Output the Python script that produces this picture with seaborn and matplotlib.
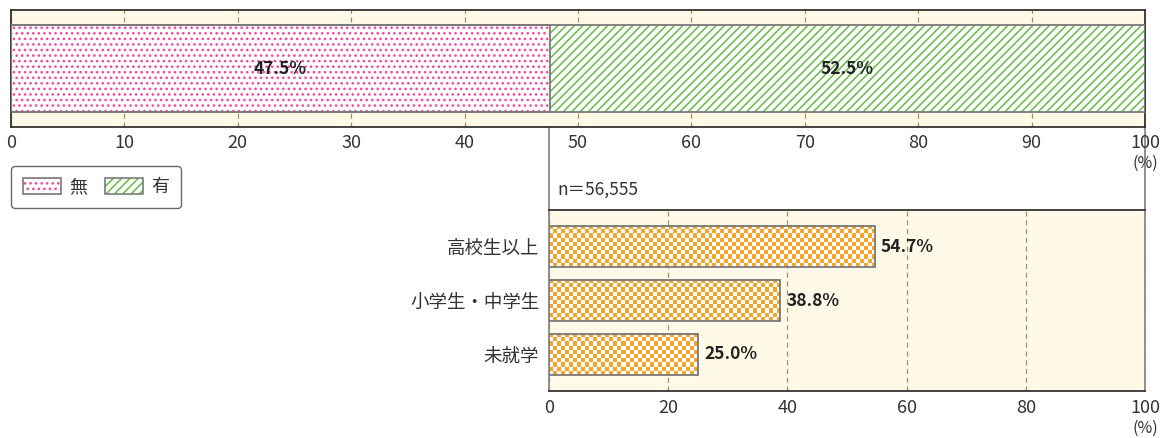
import numpy as np
import pandas as pd
import matplotlib
matplotlib.use("Agg")
import matplotlib.pyplot as plt
import matplotlib.patches as mpatches
from matplotlib.lines import Line2D
from matplotlib.legend_handler import HandlerTuple
import seaborn as sns

# ---------------- data ----------------
top_labels = ["無", "有"]
top_values = [47.5, 52.5]
top_ticks = [0, 10, 20, 30, 40, 50, 60, 70, 80, 90, 100]

categories = ["高校生以上", "小学生・中学生", "未就学"]
cat_values = [54.7, 38.8, 25.0]
bottom_ticks = [0, 20, 40, 60, 80, 100]
n_label = "n＝56,555"

# ---------------- style ----------------
sns.set_theme(style="white")
plt.rcParams["font.family"] = ["Noto Sans CJK JP", "DejaVu Sans"]
plt.rcParams["hatch.linewidth"] = 1.1

CREAM = "#FFFAE8"
PINK = "#EE4D9B"
GREEN = "#66BB44"
ORANGE = "#F6A52C"
EDGE = "#7A7A7A"
SPINE = "#333333"
GRID = "#B48A64"
TXT = "#333333"

W, H = 1164, 438
fig = plt.figure(figsize=(W / 100, H / 100), dpi=100)
fig.patch.set_facecolor("white")

ax1 = fig.add_axes([11 / W, 1 - 127 / H, 1134 / W, 117 / H])
ax2 = fig.add_axes([549 / W, 1 - 391 / H, 596 / W, 181 / H])

# ---------------- top stacked bar ----------------
df_top = pd.DataFrame({"grp": ["all"], "cum_total": [sum(top_values)],
                       "first": [top_values[0]]})
sns.barplot(data=df_top, x="cum_total", y="grp", orient="h", ax=ax1,
            color="white", width=0.744, zorder=2)
sns.barplot(data=df_top, x="first", y="grp", orient="h", ax=ax1,
            color="white", width=0.744, zorder=3)

top_patches = [p for p in ax1.patches]
green_p, pink_p = top_patches[0], top_patches[1]
for p, hc, hatch in [(green_p, GREEN, "////"), (pink_p, PINK, "...")]:
    p.set_facecolor("white")
    p.set_hatch(hatch)
    p.set_edgecolor(hc)
    p.set_linewidth(0)
for p in top_patches:
    r = mpatches.Rectangle((p.get_x(), p.get_y()), p.get_width(), p.get_height(),
                           fill=False, edgecolor=EDGE, linewidth=1.3, zorder=4)
    ax1.add_patch(r)

starts = [0, top_values[0]]
for s, v in zip(starts, top_values):
    ax1.text(s + v / 2, 0, f"{v:.1f}%", ha="center", va="center",
             fontsize=12.5, fontweight="bold", color="#222222", zorder=6)

ax1.set_facecolor(CREAM)
ax1.set_xlim(0, 100)
ax1.set_ylim(0.5, -0.5)
ax1.set_xticks(top_ticks)
ax1.set_xticklabels([str(t) for t in top_ticks])
ax1.set_yticks([])
ax1.set_xlabel("")
ax1.set_ylabel("")
ax1.tick_params(axis="x", length=0, pad=5, labelsize=13, labelcolor=TXT)
ax1.xaxis.grid(True, linestyle=(0, (4, 3)), color=GRID, linewidth=0.9, zorder=1)
ax1.set_axisbelow(True)
for s in ax1.spines.values():
    s.set_visible(True)
    s.set_color(SPINE)
    s.set_linewidth(1.3)
ax1.annotate("(%)", xy=(100, 0), xycoords=("data", "axes fraction"),
             xytext=(0, -20), textcoords="offset points", ha="center", va="top",
             fontsize=11.5, color=TXT)

# ---------------- bottom bar chart ----------------
df_bot = pd.DataFrame({"cat": categories, "val": cat_values})
sns.barplot(data=df_bot, x="val", y="cat", orient="h", ax=ax2,
            color=ORANGE, width=0.76, zorder=2)
ax2.set_xlim(0, 100)
ax2.set_ylim(len(categories) - 1 + 0.676, -0.676)

bars = list(ax2.patches)
ax2.figure.canvas.draw()
orange_rgb = np.array(matplotlib.colors.to_rgb(ORANGE))
for p in bars:
    x0, y0, w, h = p.get_x(), p.get_y(), p.get_width(), p.get_height()
    (px0, py0) = ax2.transData.transform((x0, y0))
    (px1, py1) = ax2.transData.transform((x0 + w, y0 + h))
    ncol = max(1, int(round(abs(px1 - px0) / 4.0)))
    nrow = max(1, int(round(abs(py1 - py0) / 4.0)))
    ii, jj = np.indices((nrow, ncol))
    mask = (ii + jj) % 2 == 0
    img = np.ones((nrow, ncol, 3))
    img[mask] = orange_rgb
    ax2.imshow(img, extent=[x0, x0 + w, y0 + h, y0], aspect="auto",
               interpolation="nearest", zorder=3)
    r = mpatches.Rectangle((x0, y0), w, h, fill=False, edgecolor=EDGE,
                           linewidth=1.3, zorder=4)
    ax2.add_patch(r)
    ax2.text(x0 + w + 1.0, y0 + h / 2, f"{w:.1f}%", ha="left", va="center",
             fontsize=12.5, fontweight="bold", color="#222222", zorder=6)

ax2.set_xlim(0, 100)
ax2.set_ylim(len(categories) - 1 + 0.676, -0.676)
ax2.set_facecolor(CREAM)
ax2.set_xticks(bottom_ticks)
ax2.set_xticklabels([str(t) for t in bottom_ticks])
ax2.set_xlabel("")
ax2.set_ylabel("")
ax2.tick_params(axis="x", length=0, pad=6, labelsize=13, labelcolor=TXT)
ax2.tick_params(axis="y", length=0, pad=7, labelsize=13.3, labelcolor=TXT)
ax2.xaxis.grid(True, linestyle=(0, (4, 3)), color=GRID, linewidth=0.9, zorder=1)
ax2.set_axisbelow(True)
for name, s in ax2.spines.items():
    s.set_visible(True)
    s.set_linewidth(1.3)
    s.set_color(SPINE if name in ("top", "bottom") else "#888888")
ax2.annotate("(%)", xy=(100, 0), xycoords=("data", "axes fraction"),
             xytext=(0, -21), textcoords="offset points", ha="center", va="top",
             fontsize=11.5, color=TXT)

# extension of the bottom panel frame up to the top chart
b1 = ax1.get_position()
b2 = ax2.get_position()
for xf in (b2.x0, b2.x1):
    fig.add_artist(Line2D([xf, xf], [b2.y1, b1.y0], transform=fig.transFigure,
                          color="#888888", linewidth=1.3, zorder=0))
fig.text(b2.x0 + 8 / W, 1 - 190 / H, n_label, ha="left",
         va="center", fontsize=12.5, color=TXT)

# ---------------- legend ----------------
def legend_handle(hc, hatch):
    h1 = mpatches.Patch(facecolor="white", edgecolor=hc, hatch=hatch, linewidth=0)
    h2 = mpatches.Patch(facecolor="none", edgecolor=EDGE, linewidth=1.2)
    return (h1, h2)

handles = [legend_handle(PINK, "..."), legend_handle(GREEN, "////")]
leg = fig.legend(handles=handles, labels=top_labels, loc="upper left",
                 bbox_to_anchor=(11 / W, 1 - 166 / H), ncol=2, frameon=True,
                 fancybox=True, edgecolor="#444444", fontsize=13,
                 handlelength=2.1, handleheight=1.05, handletextpad=0.45,
                 columnspacing=1.0, borderpad=0.65, borderaxespad=0,
                 handler_map={tuple: HandlerTuple(ndivide=1)})
leg.get_frame().set_linewidth(1.0)
for t in leg.get_texts():
    t.set_color(TXT)

fig.savefig("out.png", dpi=100, facecolor="white")
